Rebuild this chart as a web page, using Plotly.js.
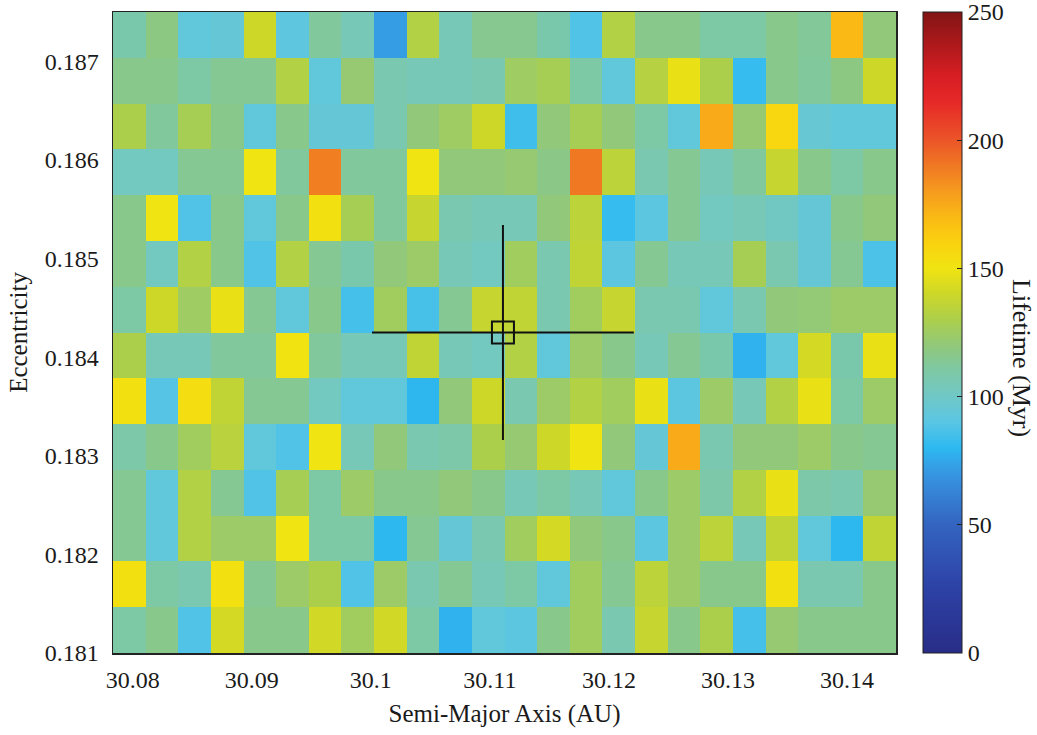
<!DOCTYPE html>
<html>
<head>
<meta charset="utf-8">
<script src="https://cdn.plot.ly/plotly-3.0.1.min.js"></script>
<style>
  html, body { margin: 0; padding: 0; background: #fff; }
  #chart { width: 1037px; height: 735px; }
</style>
</head>
<body>
<div id="chart"></div>
<script>
// Semi-major axis cell centres (AU)
const semiMajorAxis = [30.07971, 30.08245, 30.08519, 30.08793, 30.09067, 30.09341, 30.09615, 30.09889,
  30.10163, 30.10437, 30.10711, 30.10985, 30.11259, 30.11533, 30.11807, 30.12081,
  30.12355, 30.12629, 30.12903, 30.13177, 30.13451, 30.13725, 30.13999, 30.14273];

// Eccentricity cell centres, top row first
const eccentricity = [0.187268, 0.186804, 0.186339, 0.185875, 0.185411, 0.184946, 0.184482,
  0.184018, 0.183554, 0.183089, 0.182625, 0.182161, 0.181696, 0.181232];

// Lifetime (Myr), one row per eccentricity (top row first)
const lifetime = [
  [108,118,93,95,140,92,112,105,72,132,105,115, 115,108,88,132,116,116,110,110,116,113,170,120],
  [116,116,110,114,114,132,93,122,107,105,105,107, 125,128,110,93,133,148,130,82,116,112,118,140],
  [130,112,128,116,93,116,95,95,107,120,125,140, 84,120,128,120,110,93,175,122,158,96,93,93],
  [102,102,114,114,150,112,188,112,112,150,120,120, 122,117,190,135,107,114,105,112,138,116,110,116],
  [116,150,88,116,93,116,152,128,112,138,107,105, 105,120,135,82,91,114,102,105,101,95,116,120],
  [116,102,132,116,88,132,114,108,120,124,105,102, 126,107,136,91,114,105,105,128,107,95,114,87],
  [110,140,125,148,114,93,116,85,126,86,114,138, 136,107,126,138,107,107,93,107,120,121,124,124],
  [130,105,105,112,112,151,112,105,105,136,105,102, 132,93,124,116,105,114,108,78,93,142,108,148],
  [152,89,154,136,114,114,102,93,93,79,120,140, 107,124,132,126,148,91,124,105,132,148,110,124],
  [109,116,126,134,93,88,150,105,120,107,109,130, 122,140,150,120,95,175,107,120,120,124,116,114],
  [114,93,132,114,88,128,110,124,116,116,120,116, 105,110,105,93,116,124,109,132,148,109,107,122],
  [114,93,132,124,124,150,110,110,80,114,95,107, 126,142,120,116,91,124,135,105,136,93,80,136],
  [152,110,107,152,114,124,130,88,124,107,114,105, 110,93,126,114,135,124,116,116,152,107,107,116],
  [110,116,88,142,116,116,141,126,141,110,78,93, 91,116,126,107,138,116,130,85,122,116,116,116]
];

// Best-fit point with uncertainties
const bestA = [30.1111];
const bestE = [0.18425];
const errA = [0.0110];
const errE = [0.00109];

// Tick labels
const xTickVals = [30.08, 30.09, 30.10, 30.11, 30.12, 30.13, 30.14];
const xTickText = ['30.08', '30.09', '30.1', '30.11', '30.12', '30.13', '30.14'];
const yTickVals = [0.181, 0.182, 0.183, 0.184, 0.185, 0.186, 0.187];
const yTickText = ['0.181', '0.182', '0.183', '0.184', '0.185', '0.186', '0.187'];
const cbTickVals = [0, 50, 100, 150, 200, 250];

const colorscale = [
  [0.00, 'rgb(40,45,135)'],
  [0.10, 'rgb(45,65,165)'],
  [0.20, 'rgb(52,100,192)'],
  [0.28, 'rgb(55,150,225)'],
  [0.32, 'rgb(45,185,240)'],
  [0.36, 'rgb(90,198,228)'],
  [0.40, 'rgb(112,200,198)'],
  [0.44, 'rgb(125,200,165)'],
  [0.48, 'rgb(145,200,122)'],
  [0.52, 'rgb(172,207,75)'],
  [0.56, 'rgb(205,215,40)'],
  [0.60, 'rgb(240,228,18)'],
  [0.64, 'rgb(250,210,15)'],
  [0.68, 'rgb(250,185,20)'],
  [0.72, 'rgb(245,155,30)'],
  [0.76, 'rgb(240,120,35)'],
  [0.80, 'rgb(235,85,40)'],
  [0.86, 'rgb(230,40,40)'],
  [0.90, 'rgb(215,30,35)'],
  [1.00, 'rgb(130,20,20)']
];

const serif = 'Liberation Serif, Times New Roman, serif';
const textColor = '#1a1a1a';

const heat = {
  type: 'heatmap',
  x: semiMajorAxis,
  y: eccentricity.slice().reverse(),
  z: lifetime.slice().reverse(),
  zmin: 0, zmax: 250,
  colorscale: colorscale,
  hoverinfo: 'x+y+z',
  colorbar: {
    x: 1.0345, xanchor: 'left', xpad: 0,
    y: 0.5, yanchor: 'middle', ypad: 0,
    len: 1, lenmode: 'fraction',
    thickness: 39, thicknessmode: 'pixels',
    outlinewidth: 1, outlinecolor: '#222',
    tickvals: cbTickVals,
    ticks: 'inside', ticklen: 5, tickcolor: '#222', tickwidth: 1,
    ticklabeloverflow: 'allow',
    tickfont: { family: serif, size: 24, color: textColor }
  }
};

const best = {
  type: 'scatter',
  mode: 'markers',
  x: bestA, y: bestE,
  marker: { symbol: 'square-open', size: 22, color: '#111', line: { width: 2, color: '#111' } },
  error_x: { type: 'data', array: errA, visible: true, color: '#111', thickness: 2, width: 0 },
  error_y: { type: 'data', array: errE, visible: true, color: '#111', thickness: 2, width: 0 },
  hoverinfo: 'x+y',
  showlegend: false
};

const layout = {
  width: 1037, height: 735,
  margin: { l: 113, r: 141, t: 12, b: 82 },
  paper_bgcolor: '#fff',
  plot_bgcolor: '#fff',
  showlegend: false,
  font: { family: serif, size: 24, color: textColor },
  xaxis: {
    range: [30.07834, 30.14412],
    tickvals: xTickVals, ticktext: xTickText,
    ticks: '', showgrid: false, zeroline: false,
    showline: true, mirror: true, linecolor: '#222', linewidth: 1.5,
    tickfont: { family: serif, size: 24, color: textColor },
    ticklabelstandoff: 5,
    title: { text: 'Semi-Major Axis (AU)', font: { family: serif, size: 25, color: textColor }, standoff: 12 }
  },
  yaxis: {
    range: [0.181, 0.1875],
    tickvals: yTickVals, ticktext: yTickText,
    ticks: '', showgrid: false, zeroline: false,
    showline: true, mirror: true, linecolor: '#222', linewidth: 1.5,
    tickfont: { family: serif, size: 24, color: textColor },
    ticklabelstandoff: 8,
    title: { text: 'Eccentricity', font: { family: serif, size: 25, color: textColor }, standoff: 10 }
  },
  annotations: [{
    text: 'Lifetime (Myr)',
    xref: 'paper', yref: 'paper',
    x: 1.161, y: 0.46,
    xanchor: 'center', yanchor: 'middle',
    textangle: 90, showarrow: false,
    font: { family: serif, size: 26, color: textColor }
  }]
};

Plotly.newPlot('chart', [heat, best], layout, { displayModeBar: false, staticPlot: true });
</script>
</body>
</html>
